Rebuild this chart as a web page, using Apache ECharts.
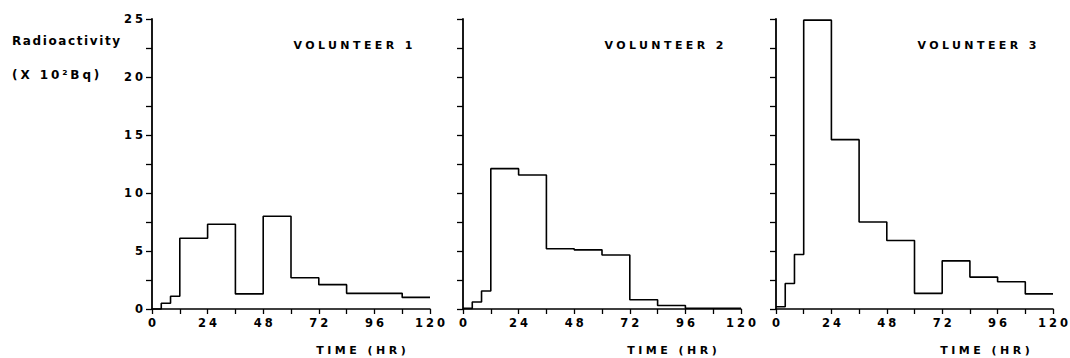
<!DOCTYPE html>
<html><head><meta charset="utf-8">
<script src="https://cdn.jsdelivr.net/npm/echarts@6/dist/echarts.min.js"></script>
<style>html,body{margin:0;padding:0;background:#fff}#c{width:1070px;height:358px}</style>
</head><body><div id="c"></div>
<script>
// ---- data ----
const hourTicks = [0, 24, 48, 72, 96, 120];
const yTicks = [0, 5, 10, 15, 20, 25];
const panelTitles = ['VOLUNTEER 1', 'VOLUNTEER 2', 'VOLUNTEER 3'];
const yAxisTitle = 'Radioactivity';
const yAxisUnit = '(X 10²Bq)';
const xAxisTitle = 'TIME (HR)';
// bin edges (hours) and radioactivity per bin (x10^2 Bq)
const edges1 = [0, 4, 8, 12, 24, 36, 48, 60, 72, 84, 108, 120];
const values1 = [0, 0.5, 1.1, 6.1, 7.3, 1.3, 8.0, 2.7, 2.1, 1.35, 1.0];
const edges2 = [0, 4, 8, 12, 24, 36, 48, 60, 72, 84, 96, 120];
const values2 = [0.05, 0.6, 1.55, 12.1, 11.55, 5.2, 5.1, 4.65, 0.8, 0.3, 0.06];
const edges3 = [0, 4, 8, 12, 24, 36, 48, 60, 72, 84, 96, 108, 120];
const values3 = [0.2, 2.2, 4.7, 24.9, 14.6, 7.5, 5.9, 1.35, 4.15, 2.75, 2.35, 1.3];

// ---- layout ----
const GRID_LEFTS = [152, 463, 776];
const GRID_WIDTHS = [278, 278, 277];
const GRID_TOP = 19, GRID_HEIGHT = 290;
const FONT = '"DejaVu Sans", sans-serif';
const INK = '#000';

const panels = [[edges1, values1], [edges2, values2], [edges3, values3]];

function stepPoints(edges, values) {
  const pts = values.map((v, i) => [edges[i], v]);
  pts.push([edges[edges.length - 1], values[values.length - 1]]);
  return pts;
}

const grids = [], xAxes = [], yAxes = [], series = [], graphics = [];
panels.forEach((p, i) => {
  grids.push({ left: GRID_LEFTS[i], width: GRID_WIDTHS[i], top: GRID_TOP, height: GRID_HEIGHT, containLabel: false });
  xAxes.push({
    type: 'value', gridIndex: i, min: 0, max: 120, interval: 12,
    axisLine: { show: true, onZero: false, lineStyle: { color: INK, width: 1.5 } },
    axisTick: { show: true, length: 5, lineStyle: { color: INK, width: 1.3 } },
    splitLine: { show: false },
    axisLabel: {
      show: true, margin: 8, color: INK, fontFamily: FONT, fontWeight: 'bold', fontSize: 11.5,
      formatter: v => hourTicks.includes(v) ? String(v) : ''
    }
  });
  yAxes.push({
    type: 'value', gridIndex: i, min: 0, max: 25, interval: 2.5,
    axisLine: { show: true, lineStyle: { color: INK, width: 1.8 } },
    axisTick: { show: true, length: 6, lineStyle: { color: INK, width: 1.3 } },
    splitLine: { show: false },
    axisLabel: {
      show: i === 0, margin: 9, color: INK, fontFamily: FONT, fontWeight: 'bold', fontSize: 11.5,
      formatter: v => yTicks.includes(v) ? String(v) : ''
    }
  });
  series.push({
    type: 'line', xAxisIndex: i, yAxisIndex: i, step: 'end', symbol: 'none',
    silent: true, clip: false,
    lineStyle: { color: INK, width: 1.6 },
    data: stepPoints(p[0], p[1])
  });
  graphics.push({
    type: 'text', x: GRID_LEFTS[i] + 201, y: 45, silent: true,
    style: { text: panelTitles[i], font: 'bold 11px ' + FONT, fill: INK,
      align: 'center', verticalAlign: 'middle', textAlign: 'center', textVerticalAlign: 'middle' }
  });
  graphics.push({
    type: 'text', x: GRID_LEFTS[i] + 209, y: 350, silent: true,
    style: { text: xAxisTitle, font: 'bold 11px ' + FONT, fill: INK,
      align: 'center', verticalAlign: 'middle', textAlign: 'center', textVerticalAlign: 'middle' }
  });
});
graphics.push({
  type: 'text', x: 12, y: 41, silent: true,
  style: { text: yAxisTitle, font: 'bold 12px ' + FONT, fill: INK,
    align: 'left', verticalAlign: 'middle', textAlign: 'left', textVerticalAlign: 'middle' }
});
graphics.push({
  type: 'text', x: 12, y: 75, silent: true,
  style: { text: yAxisUnit, font: 'bold 12px ' + FONT, fill: INK,
    align: 'left', verticalAlign: 'middle', textAlign: 'left', textVerticalAlign: 'middle' }
});

const chart = echarts.init(document.getElementById('c'), null, { renderer: 'svg' });
chart.setOption({
  animation: false,
  backgroundColor: '#fff',
  grid: grids, xAxis: xAxes, yAxis: yAxes, series: series,
  graphic: { elements: graphics }
});

// wide lettering like the original stencil type: extra gap between characters
function spacingFor(t) {
  if (t === yAxisTitle) return 1.6;
  if (t === yAxisUnit) return 2.9;
  if (panelTitles.includes(t)) return 3.4;
  if (t === xAxisTitle) return 3.5;
  return 3.0;
}
function applySpacing() {
  document.querySelectorAll('#c svg text').forEach(el => {
    const t = el.textContent;
    const n = Array.from(t).length;
    if (n < 2) return;
    const s = spacingFor(t);
    const list = [0];
    for (let k = 1; k < n; k++) list.push(s);
    el.setAttribute('dx', list.join(' '));
  });
}
chart.on('finished', applySpacing);
applySpacing();
setTimeout(applySpacing, 50);
</script>
</body></html>
